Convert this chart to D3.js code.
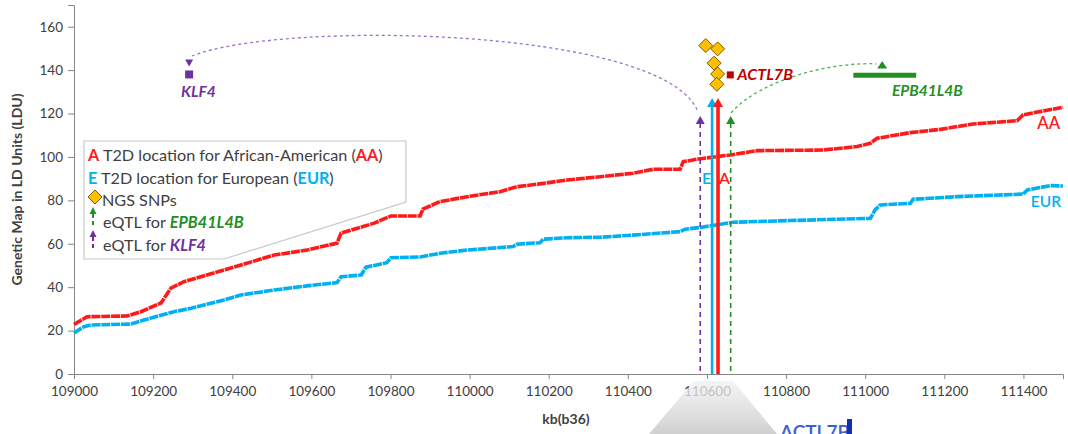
<!DOCTYPE html>
<html><head><meta charset="utf-8">
<script src="https://cdn.jsdelivr.net/npm/d3@7"></script>
<style>html,body{margin:0;padding:0;background:#fff}svg{display:block}text{font-family:Lato,"Open Sans",sans-serif}</style>
</head><body>
<svg id="c" width="1068" height="434"></svg>
<script>
// ---- data ----
const xTicks = [109000,109200,109400,109600,109800,110000,110200,110400,110600,110800,111000,111200,111400];
const yTicks = [0,20,40,60,80,100,120,140,160];
const aaKb  = [109000,109033,109134,109169,109220,109245,109278,109379,109506,109589,109665,109675,109759,109801,109875,109882,109925,109994,110077,110120,110178,110247,110330,110413,110464,110532,110540,110583,110659,110727,110894,110980,111013,111030,111114,111190,111273,111384,111399,111500];
const aaVal = [22.8,26.4,26.7,28.7,32.7,39.6,42.5,47.9,54.8,57.1,60.3,64.9,69.5,72.8,72.8,76,79.4,81.7,84,86.3,87.6,89.4,90.9,92.5,94.3,94.3,97.8,99.2,100.9,102.9,103.2,104.8,106.3,108.6,111.2,112.7,115.2,116.7,119.4,122.9];
const eurKb  = [109000,109025,109043,109144,109177,109253,109296,109379,109422,109506,109589,109665,109675,109726,109738,109791,109801,109875,109925,109994,110110,110120,110178,110186,110247,110330,110413,110532,110545,110583,110666,110810,111013,111025,111038,111114,111121,111233,111399,111410,111468,111500];
const eurVal = [18.9,21.8,22.6,23,24.9,28.7,30.3,34.1,36.4,38.7,40.6,42.1,44.8,45.6,49.2,51.3,53.6,53.9,55.6,57.1,58.7,59.8,60.5,62.1,62.8,63,64,65.6,66.7,67.5,69.9,70.7,71.7,75.6,77.9,78.6,80.5,81.7,82.9,84.8,86.8,86.6];
const snpKb  = [110597,110627,110618,110627,110625];
const snpVal = [151.3,149.8,143.2,138.2,133.5];
const t2dKb  = {E:110613, A:110628};
const eqtlKb = {KLF4:110583, EPB41L4B:110660};
const geneKLF4 = {kb:109291, val:138};
const geneACTL7B = {kb:110659, val:137.8};
const geneEPB = {kb0:110970, kb1:111129, val:137.6};

const W=1068,H=434;
const svg=d3.select("#c");
const x=d3.scaleLinear([109000,111500],[74,1063]);
const y=d3.scaleLinear([0,170],[374,5]);
const RED="#FF1A1A", BLUE="#00B0F0", PURPLE="#7030A0", GREEN="#239023", DR="#C00000", TXT="#404040", AX="#868686";

// axes
const gx=svg.append("g").attr("transform",`translate(0,${y(0)})`)
  .call(d3.axisBottom(x).tickValues(xTicks).tickFormat(d3.format("d")).tickSizeOuter(0).tickSize(5).tickPadding(7));
const gy=svg.append("g").attr("transform",`translate(${x(109000)},0)`)
  .call(d3.axisLeft(y).tickValues(yTicks).tickSizeOuter(0).tickSize(6).tickPadding(5));
[gx,gy].forEach(g=>{g.selectAll("path,line").attr("stroke",AX);g.selectAll("text").attr("fill",TXT).style("font-size","13.5px").style("font-family","Lato");});
svg.append("text").attr("transform",`translate(22,${y(85)}) rotate(-90)`).attr("text-anchor","middle")
  .attr("fill",TXT).style("font-size","14px").style("font-weight","bold").text("Genetic Map in LD Units (LDU)");
svg.append("text").attr("x",566).attr("y",424).attr("text-anchor","middle")
  .attr("fill",TXT).style("font-size","14px").style("font-weight","bold").text("kb(b36)");

// series
const line=d3.line().x(d=>x(d[0])).y(d=>y(d[1]));
svg.append("path").datum(eurKb.map((k,i)=>[k,eurVal[i]])).attr("d",line).attr("fill","none").attr("stroke",BLUE).attr("stroke-width",3.6).attr("stroke-dasharray","9,0.8");
svg.append("path").datum(aaKb.map((k,i)=>[k,aaVal[i]])).attr("d",line).attr("fill","none").attr("stroke",RED).attr("stroke-width",3.6).attr("stroke-dasharray","9,0.8");
svg.append("text").attr("x",1060).attr("y",129).attr("text-anchor","end").attr("fill",RED).style("font-size","16.5px").style("font-weight","600").text("AA");
svg.append("text").attr("x",1061).attr("y",207).attr("text-anchor","end").attr("fill",BLUE).style("font-size","15.5px").style("font-weight","600").text("EUR");

// legend callout
const lg=svg.append("g");
lg.append("path").attr("d","M84,141 L406,141 L406,202 L224,259 L84,259 Z").attr("fill","#fff").attr("stroke","#C8C8C8").attr("stroke-width",1.2);
function rich(g,xx,yy,parts){const t=g.append("text").attr("x",xx).attr("y",yy).style("font-size","16.2px").attr("fill",TXT);
  parts.forEach(p=>{const s=t.append("tspan").text(p[0]);if(p[1])s.attr("fill",p[1]);if(p[2])s.style("font-weight","bold");if(p[3])s.style("font-style","italic");});return t;}
rich(lg,88,161,[["A",RED,1],[" T2D location for African-American ("],["AA",RED,1],[")"]]);
rich(lg,88,184,[["E",BLUE,1],[" T2D location for European ("],["EUR",BLUE,1],[")"]]);
rich(lg,102,206,[["NGS SNPs"]]);
rich(lg,103,228,[["eQTL for "],["EPB41L4B",GREEN,1,1]]);
rich(lg,103,251,[["eQTL for "],["KLF4",PURPLE,1,1]]);
const diamond=s=>`M0,${-s}L${s},0L0,${s}L${-s},0Z`;
lg.append("path").attr("d",diamond(7)).attr("transform","translate(95,197)").attr("fill","#FFC000").attr("stroke","#7A5C00").attr("stroke-width",1);
[[GREEN,207,228],[PURPLE,230,251]].forEach(([c,t,b])=>{
  lg.append("path").attr("d",`M93,${t}L96.5,${t+7}L89.5,${t+7}Z`).attr("fill",c);
  lg.append("line").attr("x1",93).attr("x2",93).attr("y1",t+7).attr("y2",b).attr("stroke",c).attr("stroke-width",2).attr("stroke-dasharray","4,3");
});

// eQTL curves
const curve=(p)=>{const P=p.map(d=>[x(d[0]),y(d[1])]);return `M${P[0]}C${P[1]} ${P[2]} ${P[3]}`;};
svg.append("path").attr("d",curve([[110575,121.7],[110480,160],[109520,163],[109298,146.5]])).attr("fill","none").attr("stroke","#9B6FC8").attr("stroke-width",1.3).attr("stroke-dasharray","3,3");
svg.append("path").attr("d",curve([[110661,120.3],[110734,135.5],[110911,143.8],[111028,142.9]])).attr("fill","none").attr("stroke","#4FAE4F").attr("stroke-width",1.3).attr("stroke-dasharray","3,3");

// genes
const kx=x(geneKLF4.kb), ky=y(geneKLF4.val);
svg.append("rect").attr("x",kx-4).attr("y",ky-4).attr("width",8).attr("height",8).attr("fill",PURPLE);
svg.append("path").attr("d",`M${kx-4},${ky-15}L${kx+4},${ky-15}L${kx},${ky-8}Z`).attr("fill",PURPLE);
svg.append("text").attr("x",kx-8).attr("y",ky+23).attr("fill",PURPLE).style("font-size","15.5px").style("font-weight","bold").style("font-style","italic").text("KLF4");
const ax_=x(geneACTL7B.kb), ay_=y(geneACTL7B.val);
svg.append("rect").attr("x",ax_-3.5).attr("y",ay_-3.5).attr("width",7).attr("height",7).attr("fill",DR);
svg.append("text").attr("x",ax_+7).attr("y",ay_+5.5).attr("fill",DR).style("font-size","16px").style("font-weight","bold").style("font-style","italic").text("ACTL7B");
svg.append("line").attr("x1",x(geneEPB.kb0)).attr("x2",x(geneEPB.kb1)).attr("y1",y(geneEPB.val)).attr("y2",y(geneEPB.val)).attr("stroke",GREEN).attr("stroke-width",5);
const gax=x(111043), gay=y(142.4);
svg.append("path").attr("d",`M${gax},${gay-4}L${gax+5},${gay+3.5}L${gax-5},${gay+3.5}Z`).attr("fill",GREEN);
svg.append("text").attr("x",892).attr("y",96).attr("fill",GREEN).style("font-size","15.5px").style("font-weight","bold").style("font-style","italic").text("EPB41L4B");

// eQTL dashed arrows
[[eqtlKb.KLF4,PURPLE],[eqtlKb.EPB41L4B,GREEN]].forEach(([k,c])=>{
  const xx=x(k), top=y(118.9);
  svg.append("line").attr("x1",xx).attr("x2",xx).attr("y1",top+7).attr("y2",y(0)).attr("stroke",c).attr("stroke-width",1.6).attr("stroke-dasharray","5,4");
  svg.append("path").attr("d",`M${xx},${top}L${xx+4.5},${top+8}L${xx-4.5},${top+8}Z`).attr("fill",c);
});
// T2D arrows
[[t2dKb.E,BLUE,2.6],[t2dKb.A,RED,3.6]].forEach(([k,c,w])=>{
  const xx=x(k), top=y(127.2);
  svg.append("line").attr("x1",xx).attr("x2",xx).attr("y1",top+8).attr("y2",y(0)).attr("stroke",c).attr("stroke-width",w);
  svg.append("path").attr("d",`M${xx},${top}L${xx+5},${top+9}L${xx-5},${top+9}Z`).attr("fill",c);
});
svg.append("text").attr("x",x(t2dKb.E)-5.5).attr("y",184).attr("text-anchor","middle").attr("fill",BLUE).style("font-size","16px").style("font-weight","600").text("E");
svg.append("text").attr("x",x(t2dKb.A)+6.5).attr("y",184).attr("text-anchor","middle").attr("fill",RED).style("font-size","16px").style("font-weight","600").text("A");

// SNP diamonds
svg.append("g").selectAll("path").data(snpKb.map((k,i)=>[k,snpVal[i]])).join("path")
  .attr("d",diamond(7)).attr("transform",d=>`translate(${x(d[0])},${y(d[1])})`)
  .attr("fill","#FFC000").attr("stroke","#7A5C00").attr("stroke-width",1);

// zoom connector artifact at bottom
const defs=svg.append("defs");
const gr=defs.append("linearGradient").attr("id","gz").attr("x1",0).attr("y1",0).attr("x2",0).attr("y2",1);
gr.append("stop").attr("offset",0).attr("stop-color","#F0F0F0").attr("stop-opacity",0.72);
gr.append("stop").attr("offset",1).attr("stop-color","#CDCDCD").attr("stop-opacity",0.95);
svg.append("path").attr("d","M694,381 L733,381 L777,434 L649,434 Z").attr("fill","url(#gz)");
svg.append("text").attr("x",780).attr("y",439).attr("fill","#3A5FD0").style("font-size","19px").style("font-weight","600").text("ACTL7B");
svg.append("rect").attr("x",847).attr("y",419).attr("width",5).attr("height",15).attr("fill","#1030B0");
</script>
</body></html>
